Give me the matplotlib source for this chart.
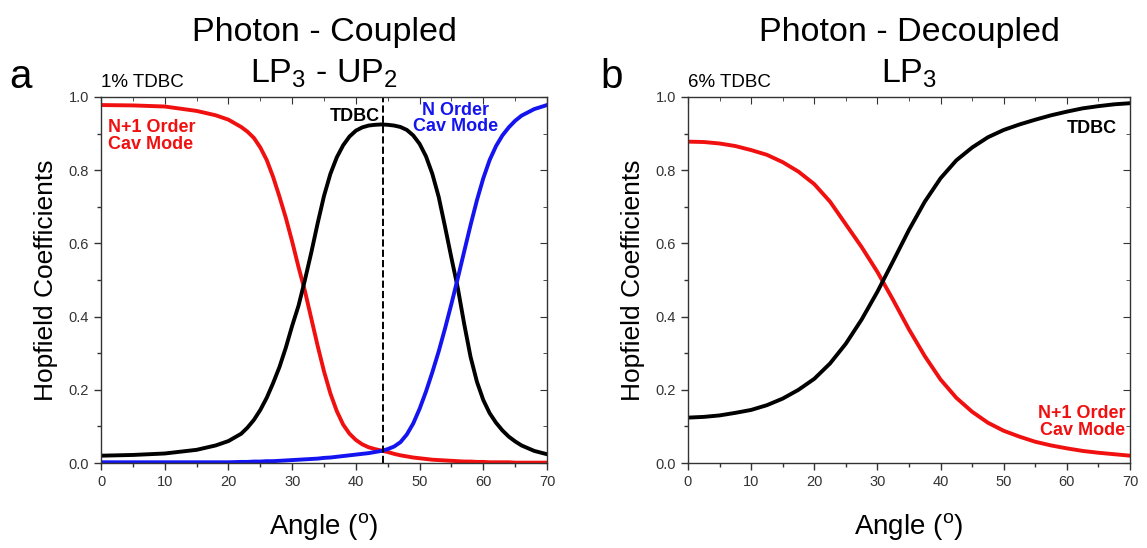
import matplotlib
matplotlib.use("Agg")
import matplotlib.pyplot as plt
from matplotlib.ticker import MultipleLocator, FormatStrFormatter

plt.rcParams['font.family'] = ['Liberation Sans', 'DejaVu Sans']
plt.rcParams['mathtext.fontset'] = 'custom'
plt.rcParams['mathtext.rm'] = 'Liberation Sans'
plt.rcParams['mathtext.it'] = 'Liberation Sans:italic'
plt.rcParams['mathtext.bf'] = 'Liberation Sans:bold'

# ---- panel a : 1% TDBC (coupled) ----
angle_a = [0, 5, 10, 15, 18, 20, 22, 23, 24, 25, 26, 27, 28, 29, 30, 31, 32, 33, 34,
           35, 36, 37, 38, 39, 40, 41, 42, 43, 44, 45, 46, 47, 48, 49, 50, 51, 52,
           53, 54, 55, 56, 57, 58, 59, 60, 61, 62, 63, 64, 65, 66, 68, 70]
cav_n1_a = [0.978, 0.977, 0.974, 0.962, 0.950, 0.938, 0.918, 0.905, 0.888, 0.862,
            0.828, 0.782, 0.728, 0.670, 0.605, 0.535, 0.470, 0.395, 0.320, 0.250,
            0.190, 0.142, 0.105, 0.080, 0.063, 0.051, 0.043, 0.038, 0.034, 0.030,
            0.025, 0.021, 0.018, 0.015, 0.013, 0.011, 0.009, 0.008, 0.007, 0.006,
            0.005, 0.004, 0.004, 0.003, 0.003, 0.002, 0.002, 0.002, 0.002, 0.001,
            0.001, 0.001, 0.001]
tdbc_a = [0.020, 0.022, 0.026, 0.036, 0.048, 0.060, 0.080, 0.097, 0.118, 0.145,
          0.178, 0.218, 0.262, 0.315, 0.375, 0.430, 0.500, 0.575, 0.655, 0.730,
          0.790, 0.835, 0.868, 0.892, 0.908, 0.917, 0.922, 0.924, 0.925, 0.924,
          0.922, 0.918, 0.910, 0.895, 0.872, 0.838, 0.790, 0.727, 0.645, 0.560,
          0.478, 0.380, 0.290, 0.222, 0.172, 0.136, 0.110, 0.089, 0.072, 0.059,
          0.048, 0.033, 0.024]
cav_n_a = [0.002, 0.002, 0.002, 0.002, 0.002, 0.002, 0.003, 0.003, 0.004, 0.004,
           0.005, 0.005, 0.006, 0.007, 0.008, 0.009, 0.010, 0.011, 0.012, 0.014,
           0.015, 0.017, 0.019, 0.021, 0.023, 0.025, 0.027, 0.030, 0.033, 0.038,
           0.045, 0.057, 0.078, 0.108, 0.148, 0.195, 0.248, 0.305, 0.368, 0.435,
           0.505, 0.578, 0.650, 0.718, 0.778, 0.828, 0.866, 0.895, 0.917, 0.935,
           0.949, 0.967, 0.978]
marker_angle_a = 44.2

# ---- panel b : 6% TDBC (decoupled) ----
angle_b = [0, 2.5, 5, 7.5, 10, 12.5, 15, 17.5, 20, 22.5, 25, 27.5, 30, 32.5, 35,
           37.5, 40, 42.5, 45, 47.5, 50, 52.5, 55, 57.5, 60, 62.5, 65, 67.5, 70]
cav_n1_b = [0.878, 0.877, 0.873, 0.866, 0.855, 0.842, 0.822, 0.796, 0.762, 0.714,
            0.652, 0.590, 0.522, 0.445, 0.365, 0.292, 0.228, 0.178, 0.140, 0.110,
            0.088, 0.072, 0.058, 0.048, 0.040, 0.033, 0.028, 0.024, 0.020]
tdbc_b = [0.124, 0.126, 0.130, 0.137, 0.145, 0.158, 0.176, 0.200, 0.230, 0.272,
          0.326, 0.392, 0.468, 0.552, 0.637, 0.714, 0.778, 0.827, 0.862, 0.890,
          0.910, 0.925, 0.938, 0.950, 0.960, 0.969, 0.975, 0.980, 0.983]

RED = '#f01010'
BLUE = '#1414f0'
LW = 2.8

fig = plt.figure(figsize=(11.47, 5.48), dpi=100)
ax1 = fig.add_axes([0.0881, 0.1551, 0.3888, 0.6679])
ax2 = fig.add_axes([0.5998, 0.1551, 0.3854, 0.6679])


def style(ax):
    ax.set_xlim(0, 70)
    ax.set_ylim(0, 1.0)
    ax.xaxis.set_major_locator(MultipleLocator(10))
    ax.xaxis.set_minor_locator(MultipleLocator(5))
    ax.yaxis.set_major_locator(MultipleLocator(0.2))
    ax.yaxis.set_minor_locator(MultipleLocator(0.1))
    ax.yaxis.set_major_formatter(FormatStrFormatter('%.1f'))
    ax.tick_params(which='both', direction='out', top=False, right=False,
                   labelsize=10.5, labelcolor='#333333', color='#333333', width=1)
    ax.tick_params(which='major', length=5)
    ax.tick_params(which='minor', length=3)
    # mirrored ticks pointing inwards on top / right
    sec_x = ax.secondary_xaxis('top')
    sec_x.xaxis.set_major_locator(MultipleLocator(10))
    sec_x.xaxis.set_minor_locator(MultipleLocator(5))
    sec_x.tick_params(which='both', direction='in', labeltop=False, color='#333333')
    sec_x.tick_params(which='major', length=5)
    sec_x.tick_params(which='minor', length=3)
    sec_y = ax.secondary_yaxis('right')
    sec_y.yaxis.set_major_locator(MultipleLocator(0.2))
    sec_y.yaxis.set_minor_locator(MultipleLocator(0.1))
    sec_y.tick_params(which='both', direction='in', labelright=False, color='#333333')
    sec_y.tick_params(which='major', length=5)
    sec_y.tick_params(which='minor', length=3)
    for s in ax.spines.values():
        s.set_color('#333333')
        s.set_linewidth(1)
    for s in list(sec_x.spines.values()) + list(sec_y.spines.values()):
        s.set_visible(False)
    ax.set_xlabel('Angle ($^{\\mathrm{o}}$)', fontsize=20, labelpad=16)
    ax.set_ylabel('Hopfield Coefficients', fontsize=19, labelpad=8)


# panel a
ax1.plot(angle_a, cav_n1_a, color=RED, lw=LW, solid_joinstyle='round')
ax1.plot(angle_a, tdbc_a, color='black', lw=LW, solid_joinstyle='round')
ax1.plot(angle_a, cav_n_a, color=BLUE, lw=LW, solid_joinstyle='round')
ax1.axvline(marker_angle_a, color='black', ls='--', lw=1.4)
style(ax1)
ax1.text(1.1, 0.893, 'N+1 Order\nCav Mode', color=RED, fontsize=13, fontweight='bold',
         ha='left', va='center', linespacing=0.95)
ax1.text(43.8, 0.948, 'TDBC', color='black', fontsize=13, fontweight='bold',
         ha='right', va='center')
ax1.text(55.7, 0.941, 'N Order\nCav Mode', color=BLUE, fontsize=13, fontweight='bold',
         ha='center', va='center', linespacing=0.95, multialignment='center')

# panel b
ax2.plot(angle_b, cav_n1_b, color=RED, lw=LW, solid_joinstyle='round')
ax2.plot(angle_b, tdbc_b, color='black', lw=LW, solid_joinstyle='round')
style(ax2)
ax2.text(67.9, 0.913, 'TDBC', color='black', fontsize=13, fontweight='bold',
         ha='right', va='center')
ax2.text(69.3, 0.112, 'N+1 Order\nCav Mode', color=RED, fontsize=13, fontweight='bold',
         ha='right', va='center', linespacing=0.95, multialignment='right')

# titles, panel letters, concentration labels
fig.text(0.2825, 0.925, 'Photon - Coupled', fontsize=24.5, ha='center', va='baseline')
fig.text(0.2825, 0.85, 'LP$_3$ - UP$_2$', fontsize=24.5, ha='center', va='baseline')
fig.text(0.7925, 0.925, 'Photon - Decoupled', fontsize=24.5, ha='center', va='baseline')
fig.text(0.7925, 0.85, 'LP$_3$', fontsize=24.5, ha='center', va='baseline')

fig.text(0.008, 0.84, 'a', fontsize=29, ha='left', va='baseline')
fig.text(0.523, 0.84, 'b', fontsize=29, ha='left', va='baseline')
fig.text(0.0881, 0.842, '1% TDBC', fontsize=13.5, ha='left', va='baseline')
fig.text(0.5998, 0.842, '6% TDBC', fontsize=13.5, ha='left', va='baseline')

fig.savefig('out.png', dpi=100)
